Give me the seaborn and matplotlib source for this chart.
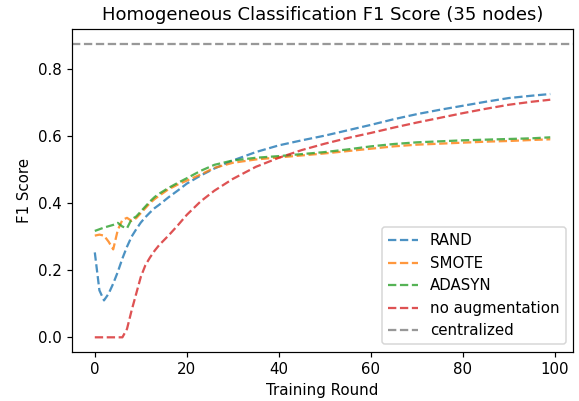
import matplotlib
matplotlib.use("Agg")
import matplotlib.pyplot as plt
import seaborn as sns
import pandas as pd

rounds = [0, 1, 2, 3, 4, 5, 6, 7, 8, 9, 10, 11, 12, 13, 14, 16, 18, 20, 23, 26,
          30, 35, 40, 45, 50, 55, 60, 65, 70, 75, 80, 85, 90, 95, 99]
rand = [0.253, 0.14, 0.11, 0.13, 0.16, 0.195, 0.235, 0.27, 0.30, 0.322, 0.342,
        0.358, 0.372, 0.385, 0.395, 0.417, 0.437, 0.458, 0.482, 0.503, 0.527,
        0.552, 0.572, 0.587, 0.601, 0.617, 0.633, 0.65, 0.665, 0.678, 0.69,
        0.702, 0.713, 0.72, 0.725]
smote = [0.303, 0.306, 0.303, 0.285, 0.262, 0.32, 0.35, 0.356, 0.347, 0.355,
         0.37, 0.385, 0.40, 0.412, 0.422, 0.441, 0.455, 0.467, 0.485, 0.505,
         0.52, 0.53, 0.536, 0.542, 0.548, 0.555, 0.562, 0.569, 0.574, 0.577,
         0.58, 0.583, 0.585, 0.588, 0.59]
adasyn = [0.317, 0.322, 0.327, 0.331, 0.335, 0.341, 0.33, 0.325, 0.352, 0.36,
          0.375, 0.39, 0.405, 0.418, 0.428, 0.445, 0.46, 0.474, 0.496, 0.514,
          0.527, 0.535, 0.54, 0.546, 0.552, 0.56, 0.569, 0.576, 0.581, 0.584,
          0.587, 0.589, 0.591, 0.593, 0.596]
no_aug = [0, 0, 0, 0, 0, 0, 0, 0.025, 0.08, 0.13, 0.18, 0.215, 0.238, 0.258,
          0.275, 0.303, 0.333, 0.365, 0.405, 0.437, 0.472, 0.508, 0.535, 0.558,
          0.577, 0.594, 0.609, 0.625, 0.64, 0.654, 0.668, 0.681, 0.693, 0.702,
          0.708]
centralized = 0.875

series = {"RAND": rand, "SMOTE": smote, "ADASYN": adasyn, "no augmentation": no_aug}
colors = ["#1f77b4", "#ff7f0e", "#2ca02c", "#d62728"]

DPI = 108
fig = plt.figure(figsize=(579 / DPI, 401 / DPI), dpi=DPI)
ax = fig.add_axes([0.1244, 0.1222, 0.8653, 0.8055])
for (name, vals), c in zip(series.items(), colors):
    df = pd.DataFrame({"round": rounds, "f1": vals})
    sns.lineplot(data=df, x="round", y="f1", ax=ax, color=c, linestyle="--",
                 alpha=0.8, label=name)
ax.axhline(centralized, color="#7f7f7f", linestyle="--", alpha=0.8, label="centralized")
ax.set_xlim(-4.95, 103.95)
ax.set_ylim(-0.04375, 0.91875)
ax.set_title("Homogeneous Classification F1 Score (35 nodes)")
ax.set_xlabel("Training Round")
ax.set_ylabel("F1 Score")
ax.legend(loc="lower right")
fig.savefig("out.png", dpi=DPI)
